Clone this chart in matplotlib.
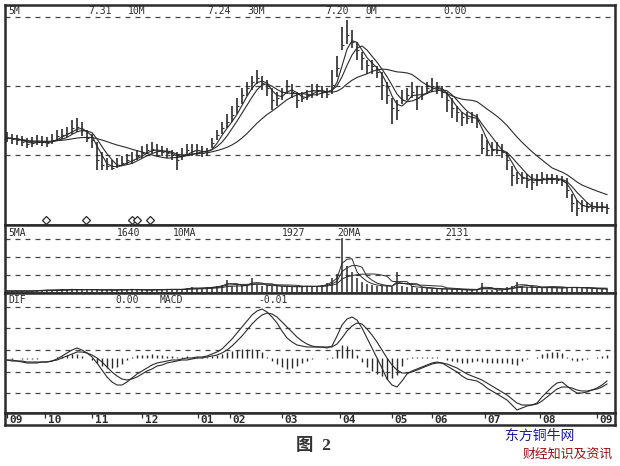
import matplotlib
matplotlib.use("Agg")
import matplotlib.pyplot as plt
import numpy as np
import pandas as pd

# price bars (one bar ~ two trading days)
close = [84, 83, 82, 80, 78, 79, 81, 80, 79, 82,
         86, 87, 89, 94, 95, 92, 84, 82, 62, 57,
         56, 54, 56, 59, 62, 62, 66, 69, 72, 73,
         71, 70, 69, 67, 62, 67, 72, 71, 72, 69,
         70, 79, 87, 94, 100, 107, 116, 127, 134, 140,
         144, 139, 134, 122, 124, 130, 136, 130, 122, 124,
         127, 132, 132, 130, 128, 137, 154, 177, 187, 180,
         172, 164, 157, 156, 150, 137, 127, 114, 112, 122,
         127, 130, 124, 128, 134, 136, 134, 130, 122, 114,
         110, 105, 104, 105, 102, 74, 72, 72, 72, 70,
         62, 47, 44, 44, 42, 40, 42, 44, 44, 43,
         42, 41, 32, 19, 14, 17, 15, 14, 15, 15,
         14]
high = [90, 88, 87, 86, 84, 85, 87, 86, 85, 88,
        92, 93, 95, 102, 104, 100, 92, 88, 80, 70,
        64, 62, 64, 66, 68, 70, 72, 76, 78, 80,
        78, 76, 74, 72, 70, 74, 78, 78, 78, 76,
        74, 84, 92, 100, 108, 116, 124, 134, 140, 146,
        152, 146, 142, 134, 130, 134, 142, 138, 130, 130,
        132, 138, 138, 136, 134, 152, 166, 195, 202, 192,
        180, 170, 162, 162, 156, 150, 140, 124, 122, 132,
        134, 140, 136, 136, 140, 144, 140, 136, 130, 124,
        116, 110, 110, 110, 108, 88, 82, 80, 80, 78,
        70, 56, 50, 50, 48, 48, 48, 50, 48, 48,
        47, 46, 44, 28, 22, 22, 20, 20, 20, 20,
        18]
low = [80, 78, 77, 76, 74, 75, 77, 76, 75, 78,
       82, 83, 85, 88, 90, 86, 80, 74, 52, 52,
       52, 52, 54, 56, 58, 58, 62, 64, 68, 69,
       66, 66, 64, 62, 52, 62, 66, 66, 67, 65,
       66, 74, 82, 88, 94, 100, 108, 118, 126, 132,
       138, 132, 126, 112, 116, 122, 128, 124, 114, 120,
       122, 124, 126, 124, 124, 128, 145, 172, 178, 174,
       162, 152, 148, 148, 144, 122, 118, 98, 102, 118,
       122, 124, 112, 122, 128, 130, 128, 124, 110, 104,
       100, 96, 98, 99, 94, 68, 66, 66, 68, 64,
       52, 36, 38, 38, 34, 32, 36, 38, 38, 38,
       38, 36, 24, 10, 6, 10, 10, 10, 10, 10,
       8]
volume = [1, 1, 1, 1, 1, 1, 2, 2, 2, 2,
          2, 3, 2, 3, 2, 2, 3, 2, 2, 2,
          2, 2, 2, 3, 2, 3, 2, 2, 2, 2,
          3, 2, 3, 3, 2, 3, 4, 5, 3, 4,
          5, 5, 6, 7, 12, 6, 7, 6, 7, 14,
          7, 6, 7, 6, 6, 5, 6, 5, 5, 6,
          6, 5, 6, 7, 9, 14, 18, 54, 26, 20,
          14, 10, 8, 7, 6, 6, 6, 5, 20, 6,
          5, 6, 4, 4, 4, 3, 3, 3, 3, 3,
          2, 2, 2, 2, 3, 9, 2, 2, 2, 2,
          5, 6, 10, 6, 5, 5, 4, 4, 5, 4,
          4, 4, 5, 5, 4, 4, 4, 3, 3, 3,
          3]
dif = [-2, -3, -3, -4, -5, -5, -5, -4, -4, -3,
       -1, 2, 5, 8, 10, 8, 5, 1, -5, -12,
       -19, -24, -27, -27, -24, -20, -16, -13, -10, -7,
       -5, -4, -3, -2, -2, -1, 0, 0, 1, 1,
       2, 4, 6, 9, 14, 19, 25, 31, 37, 43,
       47, 49, 46, 41, 35, 27, 20, 16, 13, 12,
       11, 11, 11, 11, 10, 12, 22, 33, 39, 41,
       38, 30, 20, 10, 0, -10, -21, -27, -29, -23,
       -16, -13, -11, -9, -7, -5, -4, -5, -8, -11,
       -14, -18, -21, -22, -23, -26, -30, -33, -36, -39,
       -42, -47, -52, -50, -48, -47, -45, -39, -34, -29,
       -25, -24, -28, -32, -35, -35, -34, -32, -30, -27,
       -23]
dea = [-2, -2, -3, -3, -4, -4, -4, -4, -4, -3,
       -2, 0, 2, 4, 6, 6, 5, 3, 0, -4,
       -9, -14, -18, -21, -22, -21, -19, -16, -13, -11,
       -8, -7, -5, -4, -3, -2, -2, -1, 0, 0,
       1, 2, 3, 5, 8, 12, 17, 22, 28, 34,
       39, 43, 45, 44, 41, 36, 31, 26, 21, 17,
       14, 12, 11, 11, 11, 11, 14, 20, 27, 32,
       35, 34, 29, 23, 16, 8, 0, -7, -12, -15,
       -15, -14, -12, -10, -8, -6, -5, -5, -6, -8,
       -10, -13, -16, -18, -20, -22, -25, -28, -31, -34,
       -37, -41, -45, -47, -47, -47, -46, -43, -39, -35,
       -31, -29, -29, -30, -32, -33, -33, -32, -31, -29,
       -26]
month_pos = [0, 7.6, 17, 27, 38.2, 44.6, 55, 66.6, 77, 85, 95.6, 106.6, 118]
month_labels = ['09', '10', '11', '12', '01', '02', '03', '04', '05', '06', '07', '08', '09']
signal_bars = [7.8, 15.8, 25, 26, 28.6]

ink = '#2b2b2b'
mono = 'DejaVu Sans Mono'
W, H = 620, 466

fig = plt.figure(figsize=(6.2, 4.66), dpi=100)


def box(x0, y0, x1, y1):
    return [x0 / W, 1 - y1 / H, (x1 - x0) / W, (y1 - y0) / H]


def label(x, y, s, **kw):
    fig.text(x / W, 1 - y / H, s, ha='left', va='center', fontsize=7,
             family=mono, color=ink, **kw)


x = np.arange(len(close))
s = pd.Series(close, dtype=float)
vs = pd.Series(volume, dtype=float)
hist = np.array(dif) - np.array(dea)

ax_p = fig.add_axes(box(5, 5, 615, 225))
ax_v = fig.add_axes(box(5, 225, 615, 293))
ax_m = fig.add_axes(box(5, 293, 615, 413))
ax_t = fig.add_axes(box(5, 413, 615, 425))

for ax in (ax_p, ax_v, ax_m, ax_t):
    ax.set_xlim(-0.4, 121.6)
    ax.set_xticks([])
    ax.set_yticks([])
    for sp in ax.spines.values():
        sp.set_linewidth(1.8)
        sp.set_color(ink)

grid = dict(color='#444444', lw=0.9, ls=(0, (4, 4)))

# price panel
ax_p.set_ylim(-3, 217)
for g in (205, 136, 67):
    ax_p.axhline(g, **grid)
ax_p.vlines(x, low, high, color=ink, lw=1.2)
ax_p.hlines(close, x, x + 0.35, color=ink, lw=0.8)
for n in (3, 5, 15):
    ax_p.plot(x, s.rolling(n, min_periods=1).mean(), color=ink, lw=0.8)
ax_p.plot(signal_bars, [2] * len(signal_bars), 'D', ms=4, mfc='white',
          mec=ink, mew=0.9, clip_on=False)

# volume panel
ax_v.set_ylim(-1, 67)
for g in (53, 35, 17):
    ax_v.axhline(g, **grid)
ax_v.vlines(x, 0, volume, color=ink, lw=1.1)
for n in (3, 5, 10):
    ax_v.plot(x, vs.rolling(n, min_periods=1).mean(), color=ink, lw=0.7)

# macd panel
ax_m.set_ylim(-55, 65)
for g in (51, 30, 8, -14, -35):
    ax_m.axhline(g, **grid)
ax_m.vlines(x, 0, hist, color=ink, lw=1.0)
ax_m.plot(x, dif, color=ink, lw=0.8)
ax_m.plot(x, dea, color=ink, lw=0.8)

# month strip
ax_t.set_ylim(0, 1)
ax_t.vlines(month_pos, 0.55, 1, color=ink, lw=0.9)
for p, m in zip(month_pos, month_labels):
    ax_t.annotate(m, (p, 0.4), xytext=(2, 0), textcoords='offset points',
                  va='center', ha='left', fontsize=8, weight='bold',
                  family=mono, color=ink, annotation_clip=False)

# header texts
for xx, t in ((8, '5M'), (88, '7.31'), (128, '10M'), (207, '7.24'), (247, '30M'),
              (325, '7.20'), (365, '0M'), (443, '0.00')):
    label(xx, 11, t)
for xx, t in ((8, '5MA'), (117, '1640'), (173, '10MA'), (282, '1927'),
              (337, '20MA'), (445, '2131')):
    label(xx, 233, t)
for xx, t in ((8, 'DIF'), (115, '0.00'), (160, 'MACD'), (258, '-0.01')):
    label(xx, 300, t)

fig.text(296 / W, 1 - 446 / H, '图  2', fontsize=12.5, weight='bold', color='#333333',
         family=['Liberation Serif', 'Noto Sans CJK SC'], ha='left', va='center')
fig.text(505 / W, 1 - 436 / H, '东方铜牛网', fontsize=10, color='#1c1c9c',
         family=['Noto Sans CJK SC'], ha='left', va='center')
fig.text(523 / W, 1 - 454 / H, '财经知识及资讯', fontsize=9.3, color='#9c1010',
         family=['Noto Sans CJK SC'], ha='left', va='center')

fig.savefig('out.png', dpi=100)
